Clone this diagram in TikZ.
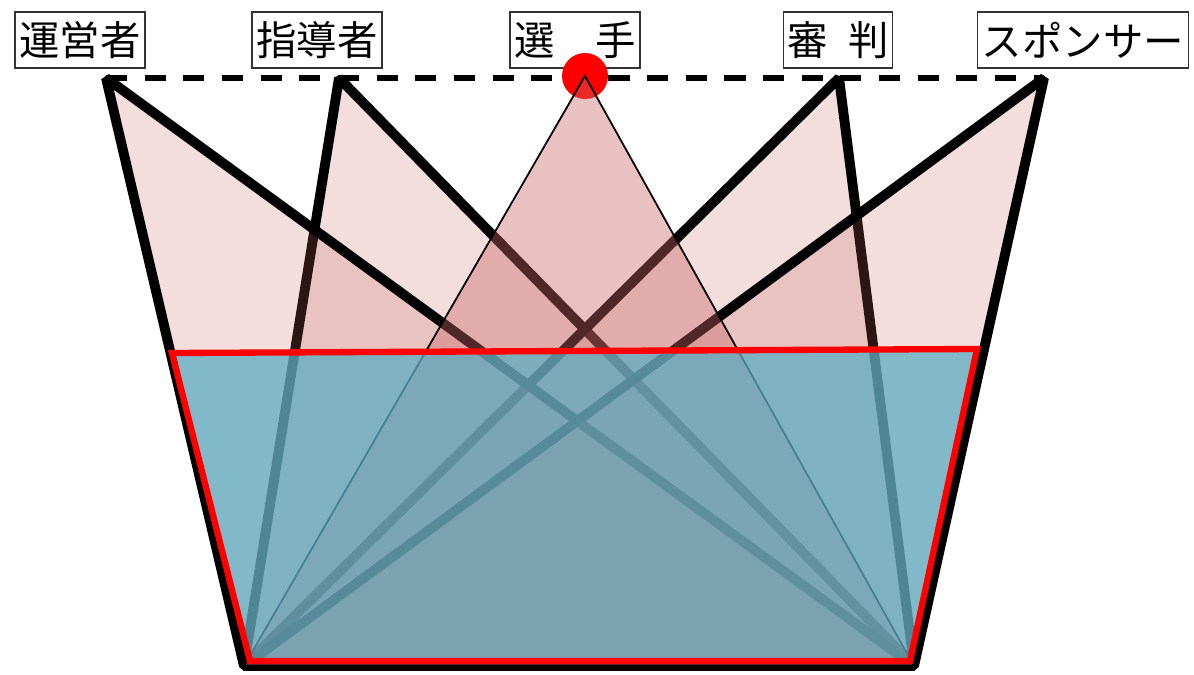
\documentclass[tikz,border=0pt]{standalone}
\usepackage{fontspec}
\setmainfont{Noto Sans CJK JP}
\definecolor{tripink}{RGB}{200,100,100}
\definecolor{poolblue}{RGB}{92,173,193}
\tikzset{
  role/.style={draw=black!80,line width=0.6pt,fill=white,inner xsep=2.5pt,minimum height=1.12cm,font=\fontsize{23}{26}\selectfont},
  wing/.style={fill=tripink,fill opacity=0.22,draw=black,line width=5.6pt,line join=bevel},
}

\begin{document}
\begin{tikzpicture}[x=0.02cm,y=-0.02cm]
  \useasboundingbox (0,0) rectangle (1194,675);
  % labels
  \node[role] (ops) at (80,40) {運営者};
  \node[role] (coach) at (317,40) {指導者};
  \node[role] (player) at (575,40) {選　手};
  \node[role] (ref) at (838,40) {審\hspace{0.5em}判};
  \node[role,anchor=west] (spon) at (977,40) {スポンサー};
  % apexes and base
  \coordinate (t-ops) at (106,78);
  \coordinate (t-coach) at (339,78);
  \coordinate (t-player) at (585,76);
  \coordinate (t-ref) at (839,78);
  \coordinate (t-spon) at (1044,78);
  \coordinate (bl) at (244,666);
  \coordinate (br) at (914,666);
  % top line
  \draw[line width=3pt,dash pattern=on 12pt off 10pt] (t-ops) -- (t-spon);
  \fill[red] (t-player) circle (23);
  % triangles
  \draw[wing] (t-coach) -- (bl) -- (br) -- cycle;
  \draw[wing] (t-ref) -- (bl) -- (br) -- cycle;
  \draw[wing] (t-ops) -- (bl) -- (br) -- cycle;
  \draw[wing] (t-spon) -- (bl) -- (br) -- cycle;
  \draw[wing,fill opacity=0.4,line width=1pt,line join=miter] (t-player) -- (bl) -- (br) -- cycle;
  % water
  \draw[fill=poolblue,fill opacity=0.75,draw=red,line width=3.6pt]
    (172,353) -- (977,349) -- (910,661) -- (250,661) -- cycle;
\end{tikzpicture}
\end{document}
